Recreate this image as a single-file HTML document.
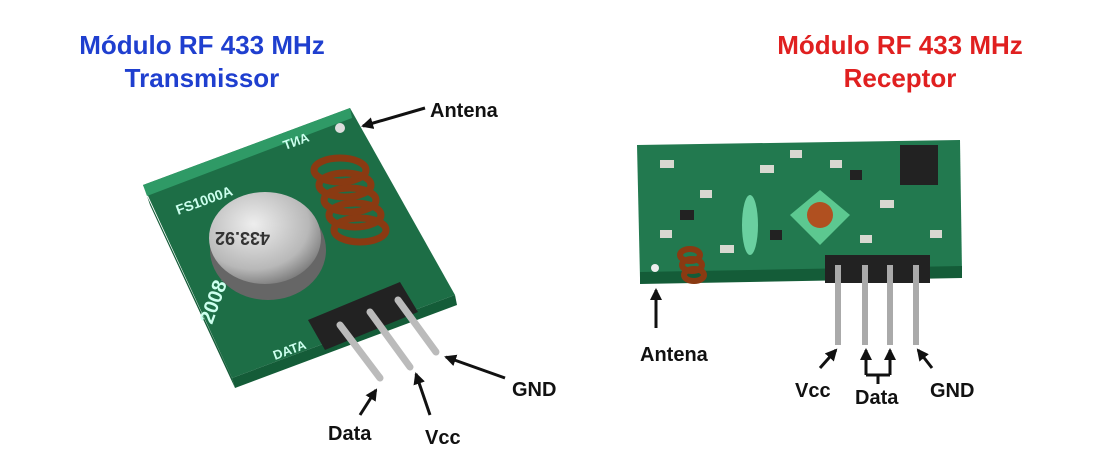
<!DOCTYPE html>
<html><head><meta charset="utf-8"><style>
body{margin:0;background:#fff;width:1104px;height:466px;overflow:hidden}
svg{display:block}
text{font-family:"Liberation Sans",sans-serif;font-weight:bold}
</style></head><body>
<svg width="1104" height="466" viewBox="0 0 1104 466">
<defs>
<marker id="a" markerUnits="userSpaceOnUse" markerWidth="12" markerHeight="12" refX="10" refY="6" orient="auto"><path d="M0,0 L12,6 L0,12 Z" fill="#111"/></marker>
<radialGradient id="can" cx="0.4" cy="0.35" r="0.7"><stop offset="0" stop-color="#eee"/><stop offset="0.7" stop-color="#b8b8b8"/><stop offset="1" stop-color="#777"/></radialGradient>
</defs>
<text x="202" y="54" font-size="26" fill="#1f3fcf" text-anchor="middle">Módulo RF 433 MHz</text>
<text x="202" y="87" font-size="26" fill="#1f3fcf" text-anchor="middle">Transmissor</text>
<text x="900" y="54" font-size="26" fill="#e02020" text-anchor="middle">Módulo RF 433 MHz</text>
<text x="900" y="87" font-size="26" fill="#e02020" text-anchor="middle">Receptor</text>

<polygon points="143,185 350,108 455,295 232,378" fill="#1d6e46"/>
<polygon points="143,185 350,108 352,118 147,196" fill="#2f9a66"/>
<polygon points="147,196 232,378 235,388 150,205" fill="#145c38"/>
<polygon points="232,378 455,295 457,305 235,388" fill="#145c38"/>
<circle cx="340" cy="128" r="5" fill="#ddd"/>
<text x="178" y="215" font-size="14" fill="#cfe" font-weight="normal" transform="rotate(-20 178 215)">FS1000A</text>
<text x="285" y="150" font-size="13" fill="#cfe" font-weight="normal" transform="rotate(-20 285 150)">TИA</text>
<text x="212" y="325" font-size="20" fill="#cfe" font-weight="normal" transform="rotate(-70 212 325)">2008-8</text>
<text x="275" y="360" font-size="13" fill="#cfe" font-weight="normal" transform="rotate(-20 275 360)">DATA</text>
<ellipse cx="268" cy="250" rx="58" ry="50" fill="#666"/>
<ellipse cx="265" cy="238" rx="56" ry="46" fill="url(#can)"/>
<text x="250" y="232" font-size="18" fill="#333" font-weight="normal" transform="rotate(180 260 232)">433.92</text>
<g stroke="#8a3a12" stroke-width="7" fill="none">
<ellipse cx="340" cy="170" rx="26" ry="12"/><ellipse cx="345" cy="185" rx="26" ry="12"/><ellipse cx="350" cy="200" rx="26" ry="12"/><ellipse cx="355" cy="215" rx="26" ry="12"/><ellipse cx="360" cy="230" rx="26" ry="12"/>
</g>
<polygon points="308,320 400,282 418,312 325,350" fill="#222"/>
<g stroke="#bbb" stroke-width="7" stroke-linecap="round">
<line x1="340" y1="325" x2="380" y2="378"/><line x1="370" y1="312" x2="410" y2="367"/><line x1="398" y1="300" x2="436" y2="352"/>
</g>
<polygon points="637,145 960,140 962,272 640,278" fill="#22794f"/>
<polygon points="640,272 962,266 962,278 640,284" fill="#145c38"/>
<g fill="#d8d8d0"><rect x="660" y="160" width="14" height="8"/><rect x="700" y="190" width="12" height="8"/><rect x="760" y="165" width="14" height="8"/><rect x="830" y="160" width="12" height="8"/><rect x="880" y="200" width="14" height="8"/><rect x="930" y="230" width="12" height="8"/><rect x="660" y="230" width="12" height="8"/><rect x="720" y="245" width="14" height="8"/><rect x="790" y="150" width="12" height="8"/><rect x="860" y="235" width="12" height="8"/></g>
<g fill="#222"><rect x="680" y="210" width="14" height="10"/><rect x="770" y="230" width="12" height="10"/><rect x="850" y="170" width="12" height="10"/></g>
<rect x="900" y="145" width="38" height="40" fill="#222"/>
<polygon points="820,190 850,215 820,245 790,215" fill="#5cc890"/>
<circle cx="820" cy="215" r="13" fill="#b05020"/>
<ellipse cx="750" cy="225" rx="8" ry="30" fill="#6ad0a0"/>
<circle cx="655" cy="268" r="4" fill="#eee"/>
<g stroke="#8a3a12" stroke-width="6" fill="none"><ellipse cx="690" cy="255" rx="10" ry="6"/><ellipse cx="692" cy="265" rx="10" ry="6"/><ellipse cx="694" cy="275" rx="10" ry="6"/></g>
<rect x="825" y="255" width="105" height="28" fill="#222"/>
<g stroke="#aaa" stroke-width="6"><line x1="838" y1="265" x2="838" y2="345"/><line x1="865" y1="265" x2="865" y2="345"/><line x1="890" y1="265" x2="890" y2="345"/><line x1="916" y1="265" x2="916" y2="345"/></g>

<g stroke="#111" stroke-width="3" marker-end="url(#a)">
<line x1="425" y1="108" x2="363" y2="126"/>
<line x1="505" y1="378" x2="446" y2="357"/>
<line x1="360" y1="415" x2="376" y2="390"/>
<line x1="430" y1="415" x2="416" y2="374"/>
<line x1="656" y1="328" x2="656" y2="290"/>
<line x1="820" y1="368" x2="836" y2="350"/>
<line x1="932" y1="368" x2="918" y2="350"/>
<line x1="866" y1="375" x2="866" y2="350"/>
<line x1="890" y1="375" x2="890" y2="350"/>
</g>
<line x1="866" y1="375" x2="890" y2="375" stroke="#111" stroke-width="3"/>
<line x1="878" y1="375" x2="878" y2="384" stroke="#111" stroke-width="3"/>
<g font-size="20" fill="#111">
<text x="430" y="117">Antena</text>
<text x="512" y="396">GND</text>
<text x="328" y="440">Data</text>
<text x="425" y="444">Vcc</text>
<text x="640" y="361">Antena</text>
<text x="795" y="397">Vcc</text>
<text x="855" y="404">Data</text>
<text x="930" y="397">GND</text>
</g>
</svg>
</body></html>
